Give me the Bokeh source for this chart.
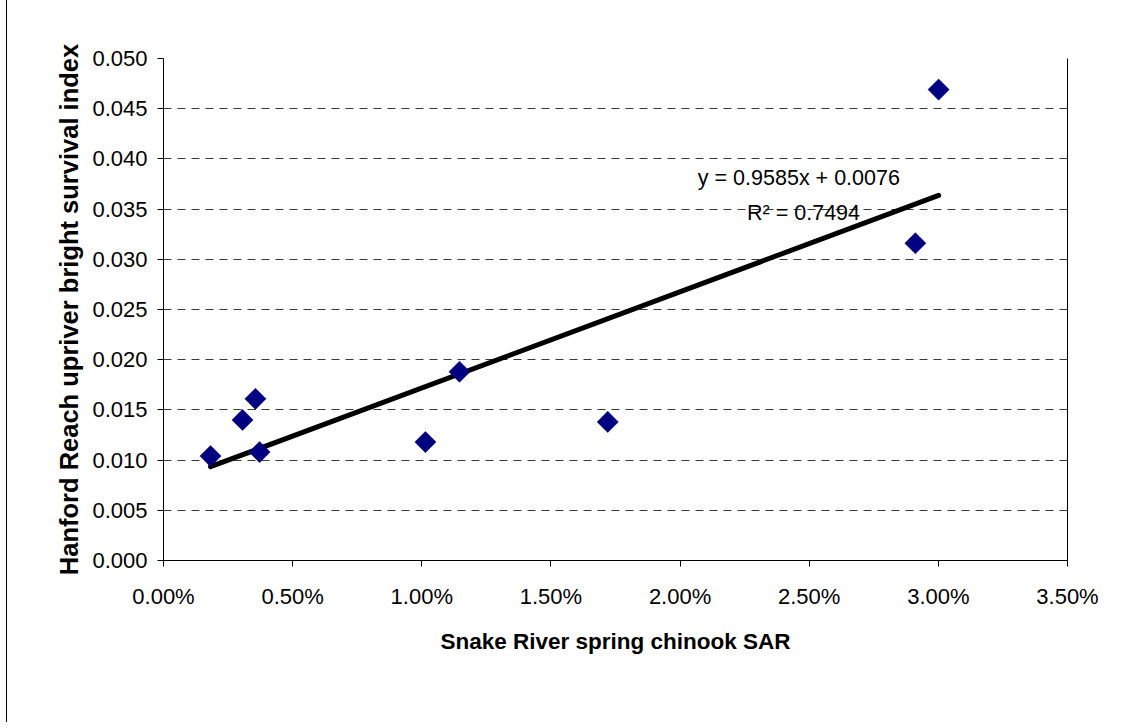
from bokeh.plotting import figure
from bokeh.models import (Range1d, SingleIntervalTicker, NumeralTickFormatter,
                          LinearAxis, Label, ColumnDataSource)
from bokeh.embed import file_html
from bokeh.resources import INLINE
import numpy as np

# Data
sar = [0.00182, 0.00306, 0.00356, 0.00372, 0.01014, 0.01146, 0.01720, 0.02911, 0.03001]
survival = [0.0104, 0.0140, 0.0161, 0.0108, 0.0118, 0.0188, 0.0138, 0.0316, 0.0469]
slope = 0.9585
intercept = 0.0076
r2 = 0.7494

FONT = "Liberation Sans"

p = figure(width=1112, height=722, output_backend="svg", toolbar_location=None,
           x_range=Range1d(0, 0.035), y_range=Range1d(0, 0.05),
           min_border_left=156, min_border_top=58, min_border_right=52,
           min_border_bottom=162)
p.margin = (0, 0, 0, 6)
p.styles = {"border-left": "1px solid black"}
p.outline_line_color = None
p.background_fill_color = "white"
p.border_fill_color = "white"

# axes
xa = p.xaxis[0]
xa.ticker = SingleIntervalTicker(interval=0.005)
xa.formatter = NumeralTickFormatter(format="0.00%")
ya = p.yaxis[0]
ya.ticker = SingleIntervalTicker(interval=0.005)
ya.formatter = NumeralTickFormatter(format="0.000")
for ax in (xa, ya):
    ax.axis_line_color = "black"
    ax.axis_line_width = 1
    ax.major_tick_line_color = "black"
    ax.major_tick_in = 0
    ax.major_tick_out = 6
    ax.minor_tick_line_color = None
    ax.major_label_text_font = FONT
    ax.major_label_text_font_size = "22px"
    ax.major_label_text_color = "black"
    ax.axis_label_text_font = FONT
    ax.axis_label_text_font_style = "bold"
    ax.axis_label_text_color = "black"
xa.axis_label = "Snake River spring chinook SAR"
xa.axis_label_text_font_size = "22.5px"
xa.major_label_standoff = 17
xa.axis_label_standoff = 17
ya.axis_label = "Hanford Reach upriver bright survival index"
ya.axis_label_text_font_size = "25.5px"
ya.major_label_standoff = 10
ya.axis_label_standoff = 6

# right border line
ra = LinearAxis(major_tick_line_color=None, minor_tick_line_color=None,
                major_label_text_color=None, axis_line_color="black",
                major_label_text_font_size="1px")
p.add_layout(ra, "right")

p.xgrid.grid_line_color = None
p.ygrid.grid_line_color = "#3a3a3a"
p.ygrid.grid_line_dash = "8 6"
p.ygrid.grid_line_width = 1
p.ygrid.ticker = SingleIntervalTicker(interval=0.005)

# trend line
xs = np.array([min(sar), max(sar)])
ys = slope * xs + intercept
p.line(xs, ys, line_color="black", line_width=5, line_cap="round")

# points
src = ColumnDataSource(dict(x=sar, y=survival))
p.scatter("x", "y", source=src, marker="square", size=15, angle=np.pi / 4,
          fill_color="#000080", line_color="#000080", line_width=0.5)

# equation labels
eq = Label(x=0.0246, y=0.03805, text=f"y = {slope}x + {intercept}",
           text_font=FONT, text_font_size="21.5px", text_align="center",
           text_baseline="middle", text_color="black")
rl = Label(x=0.02478, y=0.03466, text=f"R\u00b2 = {r2}",
           text_font=FONT, text_font_size="21.5px", text_align="center",
           text_baseline="middle", text_color="black")
p.add_layout(eq)
p.add_layout(rl)

open("out.html", "w").write(file_html(p, INLINE))
